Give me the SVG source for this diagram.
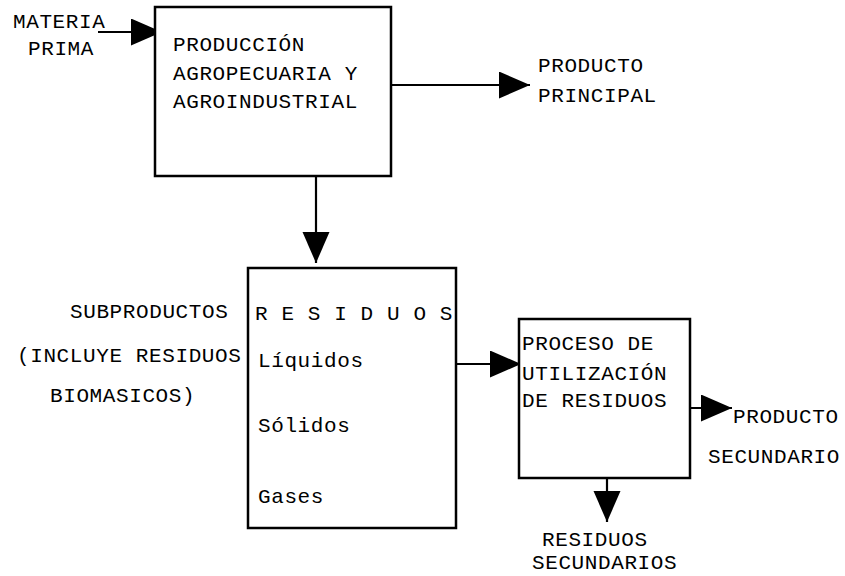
<svg xmlns="http://www.w3.org/2000/svg" width="845" height="576" viewBox="0 0 845 576">
<style>
  text { font-family: "Liberation Mono", "DejaVu Sans Mono", monospace; font-size: 21px; letter-spacing: 0.6px; fill: #000; }
  .box { fill: #fff; stroke: #000; stroke-width: 2.5; }
  .conn { stroke: #000; stroke-width: 2.2; fill: none; marker-end: url(#ah); }
</style>
<defs>
  <marker id="ah" markerUnits="userSpaceOnUse" markerWidth="32" markerHeight="28" refX="31" refY="13.5" orient="auto">
    <path d="M0,0 L31,13.5 L0,27 Z" fill="#000"/>
  </marker>
</defs>
<rect width="845" height="576" fill="#fff"/>
<g id="connectors">
  <line class="conn" x1="98" y1="32" x2="162" y2="32"/>
  <line class="conn" x1="391" y1="85" x2="530" y2="85"/>
  <line class="conn" x1="316" y1="176" x2="316" y2="263"/>
  <line class="conn" x1="456" y1="364" x2="521" y2="364"/>
  <line class="conn" x1="690" y1="408" x2="732" y2="408"/>
  <line class="conn" x1="607" y1="478" x2="607" y2="522"/>
</g>
<g id="materia-prima">
  <text x="13" y="28">MATERIA</text>
  <text x="28" y="55">PRIMA</text>
</g>
<g id="produccion">
  <rect class="box" x="155" y="7" width="236" height="169"/>
  <text x="173" y="51">PRODUCCIÓN</text>
  <text x="173" y="80">AGROPECUARIA Y</text>
  <text x="173" y="108">AGROINDUSTRIAL</text>
</g>
<g id="producto-principal">
  <text x="538" y="72">PRODUCTO</text>
  <text x="538" y="102">PRINCIPAL</text>
</g>
<g id="subproductos">
  <text x="70" y="318">SUBPRODUCTOS</text>
  <text x="17" y="362">(INCLUYE RESIDUOS</text>
  <text x="50" y="402">BIOMASICOS)</text>
</g>
<g id="residuos">
  <rect class="box" x="248" y="268" width="208" height="260"/>
  <text x="255" y="320">R E S I D U O S</text>
  <text x="258" y="367">Líquidos</text>
  <text x="258" y="432">Sólidos</text>
  <text x="258" y="503">Gases</text>
</g>
<g id="proceso">
  <rect class="box" x="519" y="319" width="171" height="159"/>
  <text x="522" y="350">PROCESO DE</text>
  <text x="522" y="380">UTILIZACIÓN</text>
  <text x="522" y="407">DE RESIDUOS</text>
</g>
<g id="producto-secundario">
  <text x="733" y="423">PRODUCTO</text>
  <text x="708" y="463">SECUNDARIO</text>
</g>
<g id="residuos-secundarios">
  <text x="542" y="546">RESIDUOS</text>
  <text x="532" y="569">SECUNDARIOS</text>
</g>
</svg>
